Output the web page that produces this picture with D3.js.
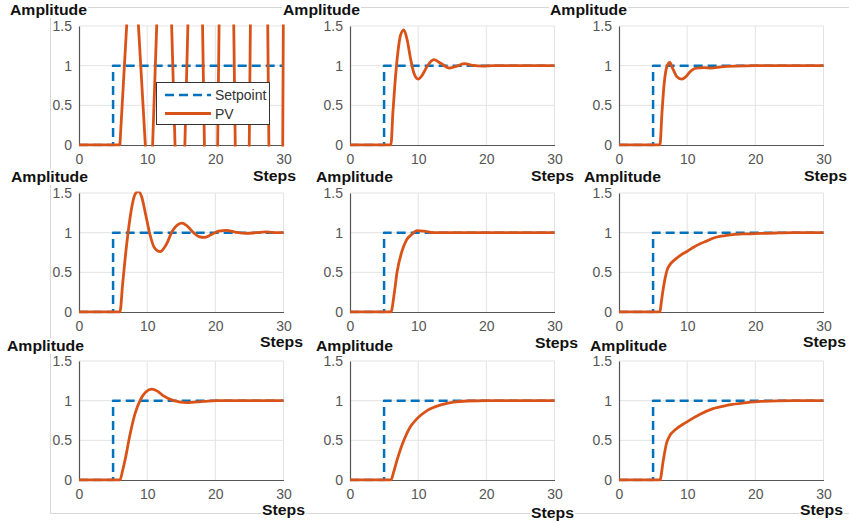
<!DOCTYPE html>
<html>
<head>
<meta charset="utf-8">
<script src="https://cdn.jsdelivr.net/npm/d3@7"></script>
<style>
  body { margin: 0; background: #fff; }
  svg { display: block; font-family: "Liberation Sans", Arial, sans-serif; }
</style>
</head>
<body>
<svg id="chart" width="849" height="522"></svg>
<script>
// Tick values shared by every panel.
var xTicks = [0, 10, 20, 30];
var yTicks = [0, 0.5, 1, 1.5];
var legendNames = ['Setpoint', 'PV'];

// Setpoint: step from 0 to 1 at step 5.
var setpoint = [[0, 0], [5, 0], [5, 1], [30, 1]];

// PV responses, [step, amplitude].
var pv1 = [[0, 0], [6, 0], [7.85, 2.8], [10.4, -1.0], [12.6, 4.5], [14.85, -2.3],
  [17.3, 6], [19.5, -6], [21.6, 9], [24.1, -8], [26.4, 13], [29.2, -12], [30, 2]];
var pv2 = [[0, 0], [6, 0], [6.3, 0.42], [6.6, 0.78], [7, 1.15], [7.4, 1.38], [7.9, 1.45],
  [8.4, 1.32], [8.9, 1.08], [9.4, 0.9], [10, 0.83], [10.6, 0.88], [11.3, 0.99],
  [12.3, 1.075], [13.3, 1.03], [14.6, 0.97], [15.7, 0.995], [16.8, 1.025], [18, 1.005],
  [19.5, 0.995], [21, 1.0], [30, 1.0]];
var pv3 = [[0, 0], [6, 0], [6.3, 0.4], [6.6, 0.75], [7, 0.98], [7.45, 1.04], [7.9, 0.96],
  [8.5, 0.86], [9.2, 0.83], [9.8, 0.86], [10.5, 0.93], [11.3, 0.97], [12.5, 0.975],
  [13.5, 0.97], [15, 0.985], [17, 0.995], [20, 1.0], [30, 1.0]];
var pv4 = [[0, 0], [6, 0], [6.4, 0.35], [6.8, 0.7], [7.2, 1.0], [7.7, 1.3], [8.2, 1.48],
  [8.7, 1.52], [9.2, 1.45], [9.8, 1.22], [10.4, 0.98], [11, 0.82], [11.9, 0.76],
  [12.8, 0.85], [13.7, 1.02], [14.5, 1.1], [15.1, 1.12], [15.8, 1.09], [16.8, 1.0],
  [17.6, 0.95], [18.4, 0.94], [19.3, 0.97], [20.5, 1.02], [21.6, 1.03], [23, 1.005],
  [24.5, 0.99], [26, 1.0], [27.5, 1.01], [29, 1.0], [30, 1.0]];
var pv5 = [[0, 0], [6, 0], [6.5, 0.24], [6.9, 0.5], [7.6, 0.76], [8.3, 0.91], [9.1, 0.98],
  [9.8, 1.025], [10.8, 1.02], [12.3, 1.0], [20, 1.0], [30, 1.0]];
var pv6 = [[0, 0], [6, 0], [6.2, 0.12], [6.5, 0.3], [6.8, 0.44], [7.1, 0.54], [7.5, 0.6],
  [8.2, 0.66], [9, 0.715], [9.9, 0.76], [11, 0.82], [11.9, 0.86], [13, 0.9], [13.8, 0.93],
  [15, 0.955], [15.8, 0.967], [17, 0.978], [18.7, 0.985], [20.7, 0.99], [23, 0.996],
  [25.6, 1.0], [30, 1.0]];
var pv7 = [[0, 0], [6, 0], [6.4, 0.12], [6.75, 0.25], [7.5, 0.58], [8.2, 0.83], [9, 1.01],
  [9.8, 1.11], [10.7, 1.146], [11.5, 1.12], [12.4, 1.06], [13.9, 1.0], [15.8, 0.975],
  [18.3, 0.99], [20.2, 1.0], [30, 1.0]];
var pv8 = [[0, 0], [6, 0], [6.4, 0.1], [6.9, 0.25], [7.9, 0.5], [8.85, 0.67], [9.8, 0.77],
  [11.3, 0.875], [13.3, 0.946], [15.2, 0.983], [17.2, 0.996], [20.2, 1.0], [30, 1.0]];
var pv9 = [[0, 0], [6, 0], [6.5, 0.25], [6.96, 0.46], [7.45, 0.56], [8.2, 0.63],
  [9.9, 0.73], [11.9, 0.83], [13.8, 0.9], [15.8, 0.94], [18.7, 0.975], [20.7, 0.99],
  [25.6, 1.0], [30, 1.0]];

var responses = [pv1, pv2, pv3, pv4, pv5, pv6, pv7, pv8, pv9];

// Where each panel sits, and where its axis titles go (page pixels).
var W = 204.5, H = 119;
var panels = [
  {x: 79,  y: 26,  ax: 10,  ay: 15,  sx: 253, sy: 181},
  {x: 350, y: 26,  ax: 283, ay: 15,  sx: 531, sy: 181},
  {x: 619, y: 26,  ax: 550, ay: 15,  sx: 804, sy: 181},
  {x: 79,  y: 193, ax: 11,  ay: 182, sx: 260, sy: 347},
  {x: 350, y: 193, ax: 316, ay: 182, sx: 535, sy: 348},
  {x: 619, y: 193, ax: 584, ay: 182, sx: 803, sy: 347},
  {x: 79,  y: 361, ax: 7,   ay: 351, sx: 262, sy: 515},
  {x: 350, y: 361, ax: 316, ay: 351, sx: 531, sy: 518},
  {x: 619, y: 361, ax: 590, ay: 351, sx: 800, sy: 515}
];

var BLUE = '#0072bd', ORANGE = '#d95319';

var svg = d3.select('#chart');

// light frame round the figure, with a layer above it for label backgrounds
svg.append('path')
    .attr('d', 'M849,7.5H50.5V513.5H849')
    .attr('fill', 'none')
    .attr('stroke', '#d6d6d6')
    .attr('stroke-width', 1);
var bgLayer = svg.append('g');

var x = d3.scaleLinear().domain([0, 30]).range([0, W]);
var y = d3.scaleLinear().domain([0, 1.5]).range([H, 0]);

var defs = svg.append('defs');
defs.append('clipPath').attr('id', 'plotClip')
  .append('rect')
    .attr('x', -1.5).attr('y', -1.5)
    .attr('width', W + 3).attr('height', H + 3);

panels.forEach(function(p, i) {
  var g = svg.append('g').attr('transform', 'translate(' + p.x + ',' + p.y + ')');

  // grid
  g.append('g').selectAll('line.vg')
      .data(xTicks.slice(1))
    .enter().append('line')
      .attr('x1', function(d) { return x(d); }).attr('x2', function(d) { return x(d); })
      .attr('y1', 0).attr('y2', H)
      .attr('stroke', '#e3e3e3');
  g.append('g').selectAll('line.hg')
      .data(yTicks.slice(1))
    .enter().append('line')
      .attr('x1', 0).attr('x2', W)
      .attr('y1', function(d) { return y(d); }).attr('y2', function(d) { return y(d); })
      .attr('stroke', '#e3e3e3');

  // axes
  var xAxis = g.append('g')
      .attr('transform', 'translate(0,' + H + ')')
      .call(d3.axisBottom(x).tickValues(xTicks).tickSize(0).tickPadding(9));
  var yAxis = g.append('g')
      .call(d3.axisLeft(y).tickValues(yTicks).tickSize(0).tickPadding(7)
        .tickFormat(function(d) { return String(d); }));
  [xAxis, yAxis].forEach(function(a) {
    a.select('.domain').attr('stroke', '#555').attr('stroke-width', 1.2);
    a.selectAll('text')
        .attr('fill', '#555')
        .style('font-size', '14px')
        .style('font-family', '"Liberation Sans", Arial, sans-serif');
  });

  var plot = g.append('g').attr('clip-path', 'url(#plotClip)');

  var spLine = d3.line()
      .x(function(d) { return x(d[0]); })
      .y(function(d) { return y(d[1]); });
  var pvLine = d3.line()
      .x(function(d) { return x(d[0]); })
      .y(function(d) { return y(d[1]); })
      .curve(i == 0 ? d3.curveLinear : d3.curveMonotoneX);

  plot.append('path')
      .attr('d', spLine(setpoint))
      .attr('fill', 'none')
      .attr('stroke', BLUE)
      .attr('stroke-width', 2.5)
      .attr('stroke-dasharray', '9,5')
      .attr('stroke-linejoin', 'round');

  plot.append('path')
      .attr('d', pvLine(responses[i]))
      .attr('fill', 'none')
      .attr('stroke', ORANGE)
      .attr('stroke-width', 2.8)
      .attr('stroke-linejoin', 'round');

  // axis titles; a white patch under each hides the frame line
  [['Amplitude', p.ax, p.ay, 77], ['Steps', p.sx, p.sy, 43]].forEach(function(t) {
    var txt = svg.append('text')
        .attr('x', t[1]).attr('y', t[2])
        .attr('textLength', t[3])
        .attr('lengthAdjust', 'spacingAndGlyphs')
        .style('font-size', '14.5px')
        .style('font-weight', 'bold')
        .attr('fill', '#111')
        .text(t[0]);
    var bb = txt.node().getBBox();
    bgLayer.append('rect')
        .attr('x', bb.x - 1).attr('y', bb.y)
        .attr('width', bb.width + 2).attr('height', bb.height)
        .attr('fill', '#fff');
  });

  // legend only in the first panel
  if (i == 0) {
    var lg = g.append('g').attr('transform', 'translate(' + (156 - p.x) + ',' + (82 - p.y) + ')');
    lg.append('rect')
        .attr('x', 0.5).attr('y', 0.5)
        .attr('width', 113).attr('height', 42)
        .attr('fill', '#fff')
        .attr('stroke', '#333')
        .attr('stroke-width', 1);
    legendNames.forEach(function(name, k) {
      var ly = 13 + k * 18.5;
      lg.append('line')
          .attr('x1', 9).attr('x2', 55)
          .attr('y1', ly).attr('y2', ly)
          .attr('stroke', k == 0 ? BLUE : ORANGE)
          .attr('stroke-width', k == 0 ? 2.5 : 2.8)
          .attr('stroke-dasharray', k == 0 ? '9,5' : null);
      lg.append('text')
          .attr('x', 59).attr('y', ly + 5)
          .attr('fill', '#333')
          .style('font-size', '14px')
          .text(name);
    });
  }
});
</script>
</body>
</html>
